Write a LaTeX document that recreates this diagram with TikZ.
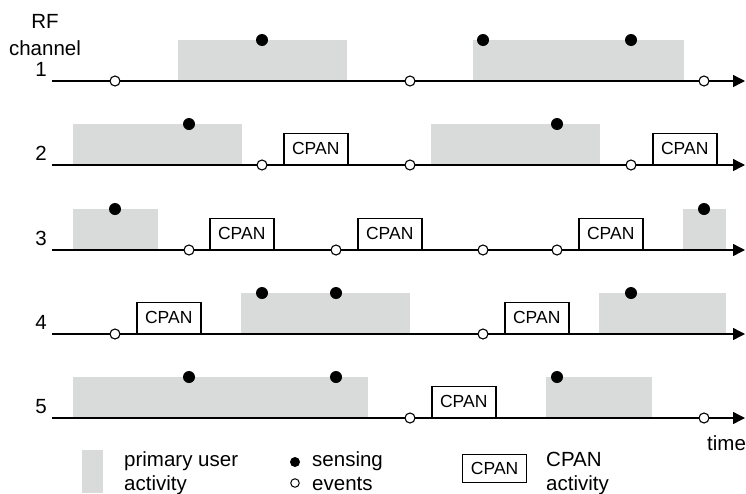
\documentclass[tikz,border=0pt]{standalone}
\usepackage{fontspec}
\setmainfont{Liberation Sans}
\usetikzlibrary{arrows.meta}
\definecolor{pugray}{RGB}{217,219,219}
\begin{document}
\begin{tikzpicture}[x=1pt,y=-1pt,
  axis/.style={line width=1.4pt,-{Triangle[length=12pt,width=12pt]}},
  activity/.style={fill=pugray,draw=none},
  sense/.style={circle,fill=black,inner sep=0pt,minimum size=12pt},
  event/.style={circle,draw,fill=white,line width=1.1pt,inner sep=0pt,minimum size=10pt},
  cpan/.style={draw,line width=1.5pt,minimum width=64pt,minimum height=31pt,inner sep=0pt,
    font=\fontsize{17.5}{17.5}\selectfont,anchor=south west},
  lbl/.style={font=\fontsize{20.5}{21}\selectfont,inner sep=0pt}]
\useasboundingbox (0,0) rectangle (746,493);

% primary user activity per channel: axis y / list of (start,end)
\foreach \c/\y/\spans in {1/81/{178/347,473/684},
                          2/165/{73/242,431/600},
                          3/250/{73/158,683/726},
                          4/334/{241/410,599/726},
                          5/418/{73/368,546/652}}{
  \foreach \a/\b in \spans
    \fill[activity] (\a,\y-41) rectangle (\b,\y);
}

% time axes with channel numbers
\foreach \c/\y in {1/81,2/165,3/250,4/334,5/418}{
  \coordinate (start\c) at (52,\y);
  \coordinate (end\c) at (745,\y);
  \draw[axis] (start\c) -- (end\c);
  \node[lbl,anchor=base east] (num\c) at (47,\y-5) {\c};
}

% sensing points on top of activity blocks
\foreach \c/\y/\xs in {1/81/{262,483,631},
                       2/165/{189,557},
                       3/250/{115,704},
                       4/334/{262,336,631},
                       5/418/{189,336,557}}{
  \foreach \x [count=\i] in \xs
    \node[sense] (sense\c-\i) at (\x,\y-41) {};
}

% events on the time axes
\foreach \c/\y/\xs in {1/81/{115,410,704},
                       2/165/{262,410,631},
                       3/250/{189,336,483,557},
                       4/334/{115,483},
                       5/418/{410,704}}{
  \foreach \x [count=\i] in \xs
    \node[event] (event\c-\i) at (\x,\y) {};
}

% CPAN activity slots
\foreach \c/\y/\xs in {2/165/{283,652},
                       3/250/{209,357,578},
                       4/334/{136,504},
                       5/418/{431}}{
  \foreach \x [count=\i] in \xs
    \node[cpan] (cpan\c-\i) at (\x,\y) {CPAN};
}

% axis titles
\node[lbl,anchor=base] (rf) at (45,28) {RF};
\node[lbl,anchor=base] (chan) at (45,55) {channel};
\node[lbl,anchor=base west] (time) at (707,450) {time};

% legend
\fill[activity] (82,450) rectangle (103,493);
\node[lbl,anchor=base west] (leg1a) at (124,466) {primary user};
\node[lbl,anchor=base west] (leg1b) at (124,490) {activity};
\node[circle,fill=black,inner sep=0pt,minimum size=10pt] (legsense) at (295,462) {};
\node[circle,draw,line width=1pt,inner sep=0pt,minimum size=8.5pt] (legevent) at (295,483) {};
\node[lbl,anchor=base west] (leg2a) at (312,466) {sensing};
\node[lbl,anchor=base west] (leg2b) at (312,490) {events};
\node[cpan,minimum height=28pt,line width=1.3pt] (legcpan) at (462,483) {CPAN};
\node[lbl,anchor=base west] (leg3a) at (546,466) {CPAN};
\node[lbl,anchor=base west] (leg3b) at (546,490) {activity};
\end{tikzpicture}
\end{document}
